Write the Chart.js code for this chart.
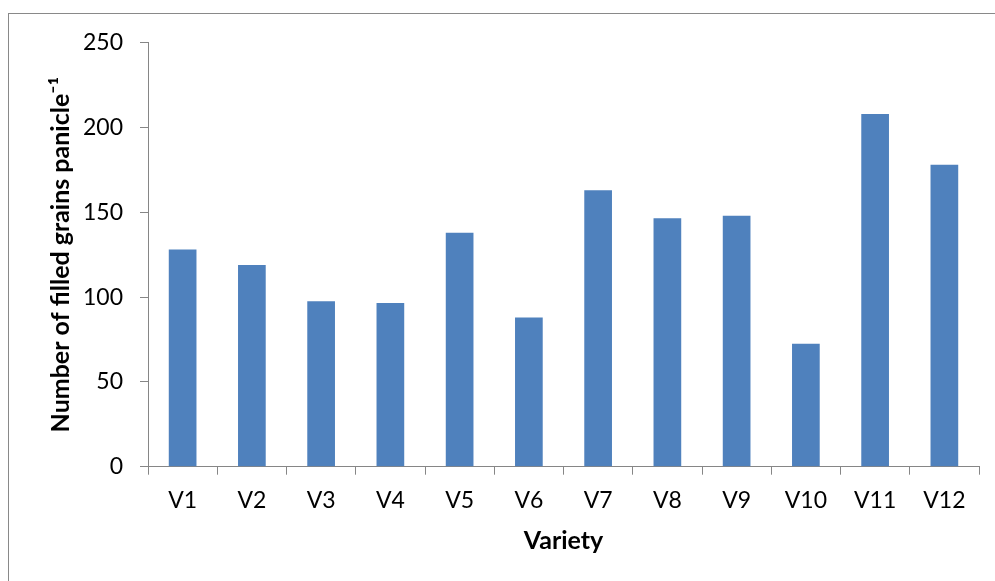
<!DOCTYPE html>
<html>
<head>
<meta charset="utf-8">
<script src="https://cdn.jsdelivr.net/npm/chart.js@4"></script>
<style>
  html, body { margin: 0; padding: 0; background: #fff; }
  #wrap { width: 995px; height: 581px; position: relative; }
</style>
</head>
<body>
<div id="wrap"><canvas id="c" width="995" height="581"></canvas></div>
<script>
// Filled grains per panicle for each rice variety
const varieties = ['V1', 'V2', 'V3', 'V4', 'V5', 'V6', 'V7', 'V8', 'V9', 'V10', 'V11', 'V12'];
const filledGrains = [128, 119, 97.5, 96.5, 138, 88, 163, 146.5, 148, 72.5, 208, 178];
const yTicks = [0, 50, 100, 150, 200, 250];

const axisGray = '#868686';
const fontFamily = 'Lato, "Open Sans", sans-serif';

// Outer chart frame (only the top and left edges fall inside the canvas)
const framePlugin = {
  id: 'frame',
  beforeDraw(chart) {
    const ctx = chart.ctx;
    ctx.save();
    ctx.strokeStyle = '#898989';
    ctx.lineWidth = 1;
    ctx.strokeRect(8.5, 13.5, 1200, 1200);
    ctx.restore();
  }
};

new Chart(document.getElementById('c'), {
  type: 'bar',
  data: {
    labels: varieties,
    datasets: [{
      data: filledGrains,
      backgroundColor: '#4F81BD',
      borderWidth: 0,
      barPercentage: 0.4,
      categoryPercentage: 1.0
    }]
  },
  plugins: [framePlugin],
  options: {
    responsive: false,
    animation: false,
    devicePixelRatio: 1,
    layout: { padding: { top: 42.7, right: 16, left: 0, bottom: 0 } },
    plugins: {
      legend: { display: false },
      tooltip: { enabled: false }
    },
    scales: {
      x: {
        grid: {
          display: true,
          offset: true,
          drawOnChartArea: false,
          drawTicks: true,
          tickLength: 8,
          color: axisGray
        },
        border: { display: true, color: axisGray, width: 1 },
        ticks: {
          color: '#000',
          padding: 12,
          font: { family: fontFamily, size: 23 }
        },
        title: {
          display: true,
          text: 'Variety',
          color: '#000',
          padding: { top: 0, bottom: 25 },
          font: { family: fontFamily, size: 25, weight: 'bold' }
        },
        afterFit(scale) { scale.height = 114.3; }
      },
      y: {
        min: 0,
        max: 250,
        afterBuildTicks(scale) { scale.ticks = yTicks.map(v => ({ value: v })); },
        grid: {
          display: true,
          drawOnChartArea: false,
          drawTicks: true,
          tickLength: 8,
          color: axisGray
        },
        border: { display: true, color: axisGray, width: 1 },
        ticks: {
          color: '#000',
          padding: 17,
          font: { family: fontFamily, size: 23 }
        },
        title: {
          display: true,
          text: 'Number of filled grains panicle\u207B\u00B9',
          color: '#000',
          padding: { top: 46, bottom: 0 },
          font: { family: fontFamily, size: 25, weight: 'bold' }
        },
        afterFit(scale) { scale.width = 148; }
      }
    }
  }
});
</script>
</body>
</html>
